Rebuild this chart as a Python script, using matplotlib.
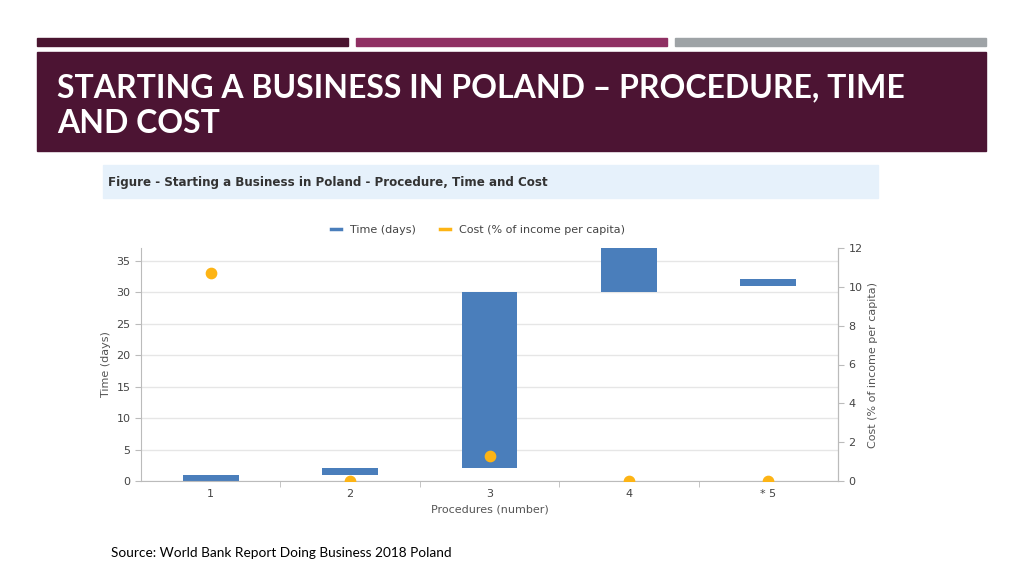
import matplotlib.pyplot as plt
from matplotlib.patches import Rectangle
from matplotlib.lines import Line2D
import numpy as np

# Data
procedures = ['1', '2', '3', '4', '* 5']
time_start = [0, 1, 2, 30, 31]
time_days = [1, 1, 28, 7, 1]
cost_pct = [10.7, 0.0, 1.3, 0.0, 0.0]

bar_color = '#4a7ebb'
dot_color = '#fdb415'
text_grey = '#555555'

fig = plt.figure(figsize=(10.24, 5.76), dpi=100)
W, H = 1024, 576

def rect(x0, y0, x1, y1, color):
    fig.patches.append(Rectangle((x0 / W, 1 - y1 / H), (x1 - x0) / W, (y1 - y0) / H,
                                 transform=fig.transFigure, color=color, zorder=0))

# Slide decoration
rect(37, 38, 348, 46, '#4a1530')
rect(356, 38, 667, 46, '#8f3063')
rect(675, 38, 986, 46, '#9ea3a6')
rect(37, 52, 986, 151, '#4c1433')
fig.text(57 / W, 1 - 106 / H, 'STARTING A BUSINESS IN POLAND – PROCEDURE, TIME\nAND COST',
         color='white', fontsize=23, fontweight='bold', family='Lato',
         va='center', ha='left', linespacing=1.27)

# Figure header band
rect(103, 165, 878, 198, '#e6f1fb')
fig.text(108 / W, 1 - 183 / H, 'Figure - Starting a Business in Poland - Procedure, Time and Cost',
         fontsize=8.6, fontweight='bold', color='#333333', va='center', ha='left')

# Chart
ax = fig.add_axes([141 / W, 1 - 481 / H, (838 - 141) / W, (481 - 248) / H])
x = np.arange(len(procedures))
ax.bar(x, time_days, bottom=time_start, width=0.4, color=bar_color, zorder=2)
ax.set_xlim(-0.5, len(procedures) - 0.5)
ax.set_ylim(0, 37)
ax.set_yticks(np.arange(0, 36, 5))
ax.set_xticks(x)
ax.set_xticklabels(procedures)
ax.set_xticks(x[:-1] + 0.5, minor=True)
ax.grid(axis='y', color='#e6e6e6', linewidth=1, zorder=0)
ax.set_ylabel('Time (days)', fontsize=8, color=text_grey)
ax.set_xlabel('Procedures (number)', fontsize=8, color=text_grey)
ax.tick_params(axis='both', labelsize=8, colors='#bbbbbb', labelcolor='#444444', length=4)
ax.tick_params(axis='x', which='major', length=0, pad=6)
ax.tick_params(axis='x', which='minor', length=4, color='#bbbbbb')
ax.spines['top'].set_visible(False)
for s in ['left', 'bottom', 'right']:
    ax.spines[s].set_color('#bbbbbb')

ax2 = ax.twinx()
ax2.scatter(x, cost_pct, s=55, color=dot_color, zorder=3, clip_on=True)
ax2.set_ylim(0, 12)
ax2.set_yticks(np.arange(0, 13, 2))
ax2.set_ylabel('Cost (% of income per capita)', fontsize=8, color=text_grey)
ax2.tick_params(axis='y', labelsize=8, colors='#bbbbbb', labelcolor='#444444', length=4)
ax2.spines['top'].set_visible(False)
ax2.spines['right'].set_color('#bbbbbb')
ax2.spines['left'].set_visible(False)
ax2.spines['bottom'].set_visible(False)

handles = [Line2D([], [], color=bar_color, lw=2.5),
           Line2D([], [], color=dot_color, lw=2.5)]
fig.legend(handles, ['Time (days)', 'Cost (% of income per capita)'],
           loc='center', bbox_to_anchor=(478 / W, 1 - 230 / H), ncol=2, frameon=False,
           fontsize=8, handlelength=0.9, columnspacing=2.2, labelcolor='#444444')

fig.text(111 / W, 1 - 553 / H, 'Source: World Bank Report Doing Business 2018 Poland',
         fontsize=9.8, family='Lato', color='black', va='center', ha='left')

plt.savefig('out.png', dpi=100)
plt.close()
